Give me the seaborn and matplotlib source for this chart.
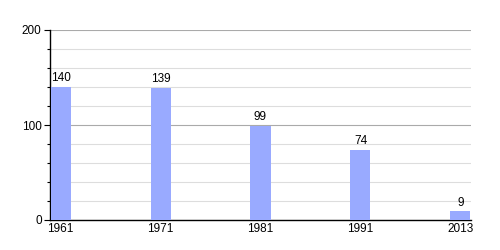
import matplotlib
matplotlib.use("Agg")
import matplotlib.pyplot as plt
import seaborn as sns
import pandas as pd
from matplotlib.ticker import MultipleLocator

years = ["1961", "1971", "1981", "1991", "2013"]
values = [140, 139, 99, 74, 9]

sns.set_theme(style="white")
plt.rcParams['font.family'] = ['Liberation Sans', 'DejaVu Sans']

df = pd.DataFrame({"year": years, "value": values})

fig = plt.figure(figsize=(5, 2.5), dpi=100)
ax = fig.add_axes([0.1, 0.12, 0.842, 0.76])
sns.barplot(data=df, x="year", y="value", color="#99aaff", width=0.2,
            saturation=1, ax=ax, zorder=3, linewidth=0, edgecolor="none")
ax.set_xlim(-0.105, 4.105)
ax.set_ylim(0, 200)
ax.yaxis.set_major_locator(MultipleLocator(100))
ax.yaxis.set_minor_locator(MultipleLocator(20))
ax.grid(which="major", axis="y", color="#aaaaaa", linewidth=0.8, zorder=1)
ax.grid(which="minor", axis="y", color="#dddddd", linewidth=0.8, zorder=1)
ax.set_axisbelow(True)
for s in ["top", "right"]:
    ax.spines[s].set_visible(False)
for s in ["left", "bottom"]:
    ax.spines[s].set_color("black")
    ax.spines[s].set_linewidth(1)
ax.tick_params(axis="y", which="major", length=4, width=0.8, color="black",
               labelsize=8.5, labelcolor="black", pad=2, left=True)
ax.tick_params(axis="y", which="minor", length=2.5, width=0.8, color="black", left=True)
ax.tick_params(axis="x", length=0, labelsize=8.5, labelcolor="black", pad=2)
ax.set_xlabel("")
ax.set_ylabel("")
for c in ax.containers:
    ax.bar_label(c, labels=[str(v) for v in values], fontsize=8.5, color="black", padding=2)
fig.savefig("out.png", dpi=100)
